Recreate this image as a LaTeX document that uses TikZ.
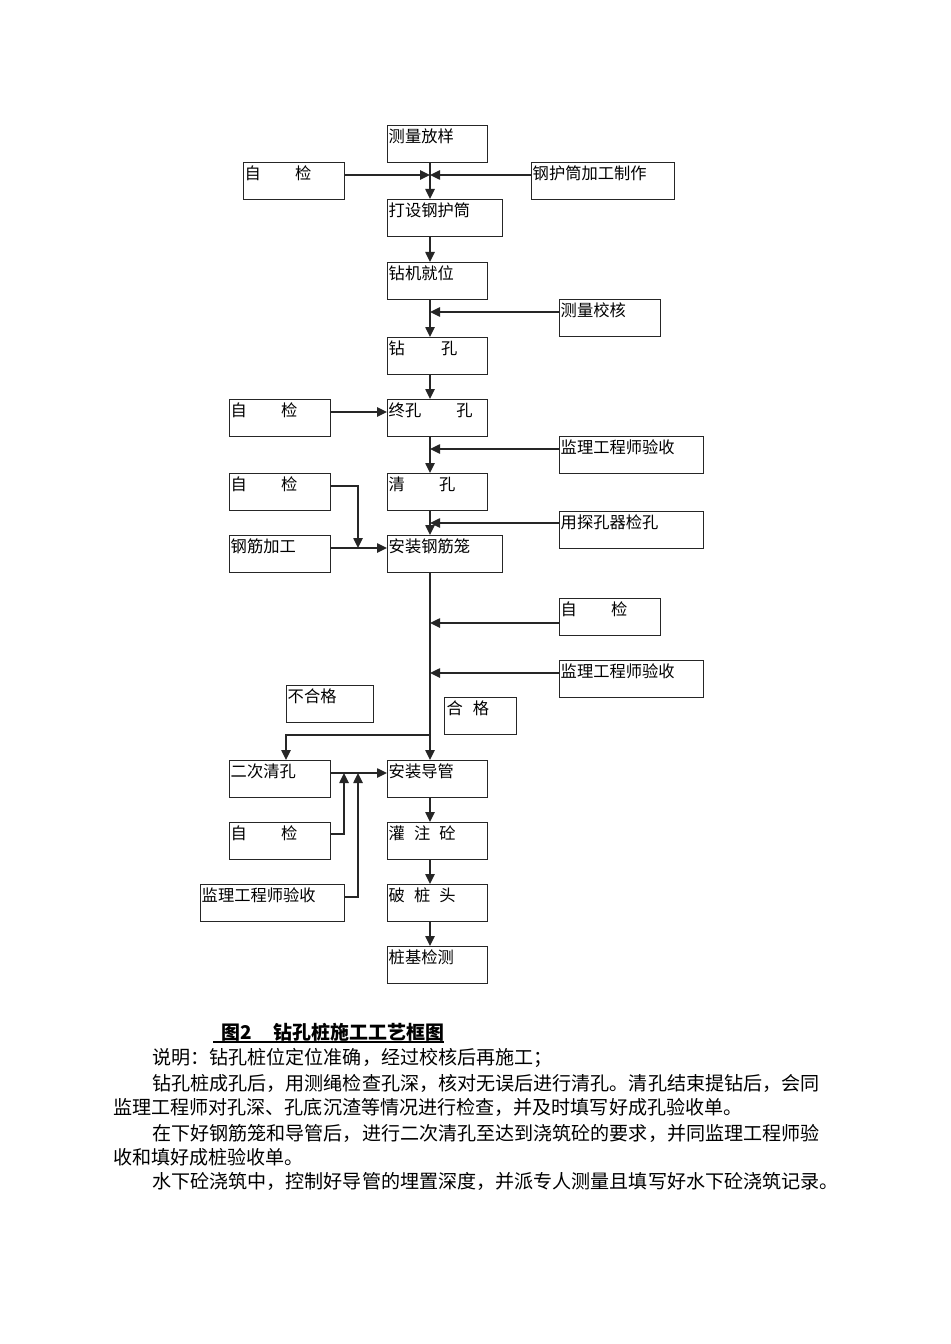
\documentclass[tikz,border=0pt]{standalone}
\usepackage{fontspec}
\setmainfont{Noto Sans CJK SC}
\usetikzlibrary{arrows.meta,calc}
\XeTeXlinebreaklocale "zh"
\XeTeXlinebreakskip=0pt plus 4pt
\newdimen\upx \upx=0.75pt
\newcommand\bxt[2]{\makebox[#1\upx][l]{\rule[-20\upx]{0pt}{37\upx}#2}}
\newcommand\boxfont{\fontsize{12.2pt}{14pt}\selectfont}
\newcommand\bodyfont{\fontsize{14.3pt}{17pt}\selectfont}
\newcommand\capfont{\fontsize{14.2pt}{17pt}\selectfont\bfseries}
\newcommand\gap[1]{\hspace*{#1\upx}}
\begin{document}
\begin{tikzpicture}[x=0.75pt,y=-0.75pt,
 box/.style={draw=black!85,line width=1.1pt,inner xsep=0.75pt,inner ysep=0pt,anchor=north west,font=\boxfont},
 arr/.style={draw=black!85,line width=1.1pt,-{Triangle[length=7.5pt,width=7pt]}},
 body/.style={anchor=base west,inner sep=0pt,font=\bodyfont}]
\fill[white] (0,0) rectangle (950,1344);
\useasboundingbox (0,0) rectangle (950,1344);
\coordinate (spine) at (430,0);
% main column
\node[box] (b1) at (387,125) {\bxt{98}{测量放样}};
\node[box] (b2) at (387,199) {\bxt{113}{打设钢护筒}};
\node[box] (b3) at (387,262) {\bxt{98}{钻机就位}};
\node[box] (b4) at (387,337) {\bxt{98}{钻\gap{36}孔}};
\node[box] (b5) at (387,399) {\bxt{98}{终孔\gap{35}孔}};
\node[box] (b6) at (387,473) {\bxt{98}{清\gap{34}孔}};
\node[box] (b7) at (387,535) {\bxt{113}{安装钢筋笼}};
\node[box] (b8) at (387,760) {\bxt{98}{安装导管}};
\node[box] (b9) at (387,822) {\bxt{98}{灌\gap{9}注\gap{9}砼}};
\node[box] (b10) at (387,884) {\bxt{98}{破\gap{9}桩\gap{9}头}};
\node[box] (b11) at (387,946) {\bxt{98}{桩基检测}};
% left side
\node[box] (z1) at (243,162) {\bxt{99}{自\gap{34}检}};
\node[box] (z2) at (229,399) {\bxt{99}{自\gap{34}检}};
\node[box] (z3) at (229,473) {\bxt{99}{自\gap{34}检}};
\node[box] (z4) at (229,535) {\bxt{99}{钢筋加工}};
\node[box] (z5) at (229,760) {\bxt{99}{二次清孔}};
\node[box] (z6) at (229,822) {\bxt{99}{自\gap{34}检}};
\node[box] (z7) at (200,884) {\bxt{142}{监理工程师验收}};
% right side
\node[box] (g1) at (531,162) {\bxt{141}{钢护筒加工制作}};
\node[box] (r1) at (559,299) {\bxt{99}{测量校核}};
\node[box] (r2) at (559,436) {\bxt{142}{监理工程师验收}};
\node[box] (r3) at (559,511) {\bxt{142}{用探孔器检孔}};
\node[box] (r4) at (559,598) {\bxt{99}{自\gap{34}检}};
\node[box] (r5) at (559,660) {\bxt{142}{监理工程师验收}};
% labels
\node[box] (n1) at (286,685) {\bxt{85}{不合格}};
\node[box] (n2) at (444,697) {\bxt{70}{\gap{1}合\gap{10}格}};
% connector end points
\coordinate (az1) at ($(z1.north east)+(0,13)$);
\coordinate (ag1) at ($(g1.north west)+(0,13)$);
\coordinate (ar1) at ($(r1.north west)+(0,13)$);
\coordinate (az2) at ($(z2.north east)+(0,13)$);
\coordinate (ab5) at ($(b5.north west)+(0,13)$);
\coordinate (ar2) at ($(r2.north west)+(0,13)$);
\coordinate (az3) at ($(z3.north east)+(0,13)$);
\coordinate (az4) at ($(z4.north east)+(0,13)$);
\coordinate (ab7) at ($(b7.north west)+(0,13)$);
\coordinate (ar3) at ($(r3.north west)+(0,12)$);
\coordinate (ar4) at ($(r4.north west)+(0,25)$);
\coordinate (ar5) at ($(r5.north west)+(0,13)$);
\coordinate (az5) at ($(z5.north east)+(0,13)$);
\coordinate (ab8) at ($(b8.north west)+(0,13)$);
\coordinate (tz5) at ($(z5.north west)+(57,0)$);
\coordinate (az6) at ($(z6.north east)+(0,12)$);
\coordinate (az7) at ($(z7.north east)+(0,13)$);
\coordinate (j1) at (358,548);
\coordinate (br) at (430,735);
\coordinate (j2) at (344,773);
\coordinate (j3) at (358,773);
% spine arrows
\draw[arr] (b1.south -| spine) -- (b2.north -| spine);
\draw[arr] (b2.south -| spine) -- (b3.north -| spine);
\draw[arr] (b3.south -| spine) -- (b4.north -| spine);
\draw[arr] (b4.south -| spine) -- (b5.north -| spine);
\draw[arr] (b5.south -| spine) -- (b6.north -| spine);
\draw[arr] (b6.south -| spine) -- (b7.north -| spine);
\draw[arr] (b7.south -| spine) -- (b8.north -| spine);
\draw[arr] (b8.south -| spine) -- (b9.north -| spine);
\draw[arr] (b9.south -| spine) -- (b10.north -| spine);
\draw[arr] (b10.south -| spine) -- (b11.north -| spine);
% side arrows
\draw[arr] (az1) -- (az1 -| spine);
\draw[arr] (ag1) -- (ag1 -| spine);
\draw[arr] (ar1) -- (ar1 -| spine);
\draw[arr] (az2) -- (ab5);
\draw[arr] (ar2) -- (ar2 -| spine);
\draw[arr] (az3) -| (j1);
\draw[arr] (az4) -- (ab7);
\draw[arr] (ar3) -- (ar3 -| spine);
\draw[arr] (ar4) -- (ar4 -| spine);
\draw[arr] (ar5) -- (ar5 -| spine);
\draw[arr] (br) -| (tz5);
\draw[arr] (az5) -- (ab8);
\draw[arr] (az6) -| (j2);
\draw[arr] (az7) -| (j3);
% caption and text
\node[anchor=base west,inner sep=0pt,font=\capfont] (cap) at (213,1039) {\gap{8}图2\gap{22}钻孔桩施工工艺框图};
\draw[line width=0.9pt] ($(cap.base west)+(0,3)$) -- ($(cap.base east)+(0,3)$);
\node[body] (t1) at (152,1064) {说明：钻孔桩位定位准确，经过校核后再施工；};
\node[body] (t2) at (152,1090) {\makebox[683\upx][s]{钻孔桩成孔后，用测绳检查孔深，核对无误后进行清孔。清孔结束提钻后，会同}};
\node[body] (t3) at (113,1114) {监理工程师对孔深、孔底沉渣等情况进行检查，并及时填写好成孔验收单。};
\node[body] (t4) at (152,1140) {\makebox[683\upx][s]{在下好钢筋笼和导管后，进行二次清孔至达到浇筑砼的要求，并同监理工程师验}};
\node[body] (t5) at (113,1164) {收和填好成桩验收单。};
\node[body] (t6) at (152,1188) {\makebox[683\upx][s]{水下砼浇筑中，控制好导管的埋置深度，并派专人测量且填写好水下砼浇筑记录。}};
\end{tikzpicture}
\end{document}
